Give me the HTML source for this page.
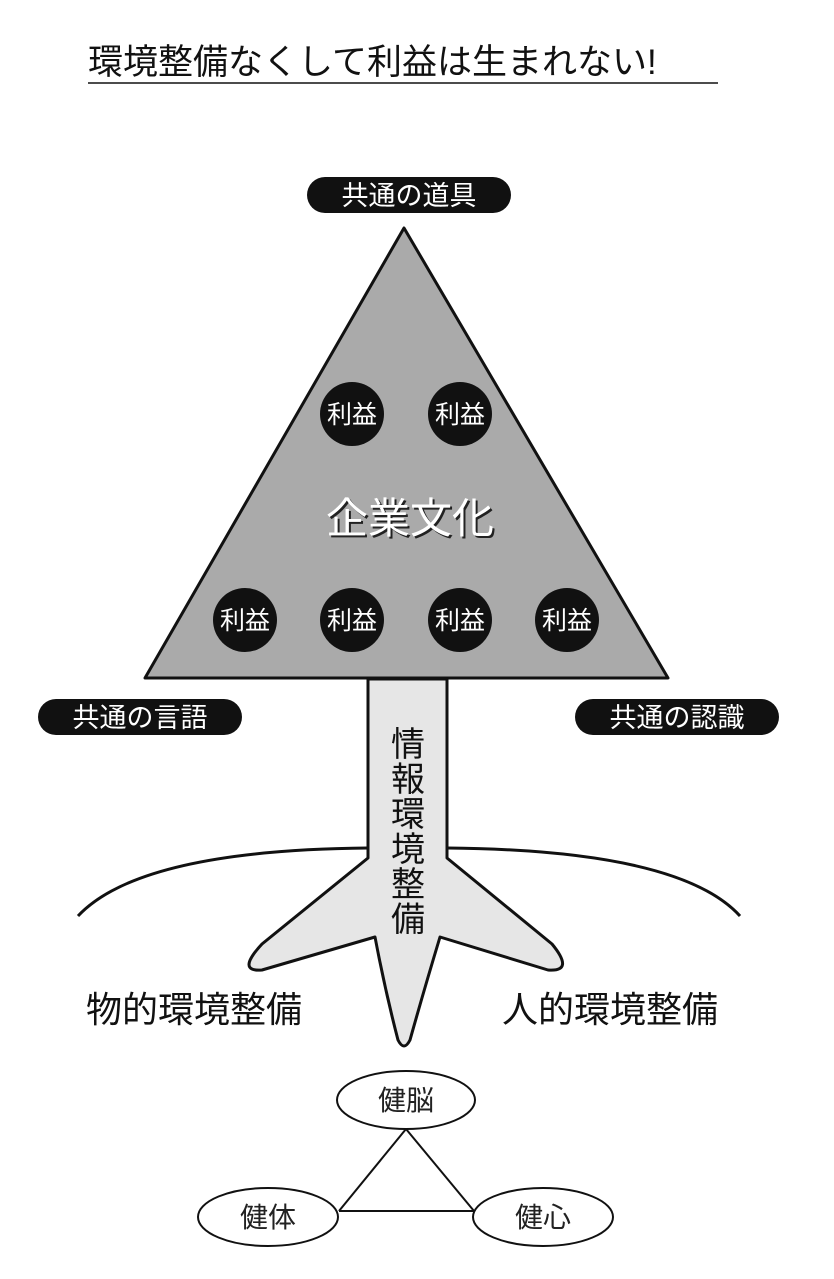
<!DOCTYPE html>
<html><head><meta charset="utf-8"><style>
body{margin:0;background:#fff;}
svg text{font-family:"Liberation Sans","Noto Sans CJK JP",sans-serif;}
</style></head><body>
<svg width="834" height="1274" viewBox="0 0 834 1274" xmlns="http://www.w3.org/2000/svg">
<rect width="834" height="1274" fill="#fff"/>
<text x="88" y="74" font-size="35" fill="#111">環境整備なくして利益は生まれない!</text>
<line x1="88" y1="83" x2="718" y2="83" stroke="#111" stroke-width="1.5"/>
<rect x="307" y="177" width="204" height="36" rx="18" fill="#111"/>
<text x="409" y="205" font-size="27" fill="#fff" text-anchor="middle">共通の道具</text>
<rect x="38" y="699" width="204" height="36" rx="18" fill="#111"/>
<text x="140" y="727" font-size="27" fill="#fff" text-anchor="middle">共通の言語</text>
<rect x="575" y="699" width="204" height="36" rx="18" fill="#111"/>
<text x="677" y="727" font-size="27" fill="#fff" text-anchor="middle">共通の認識</text>
<polygon points="404,228 668,678 145,678" fill="#aaaaaa" stroke="#111" stroke-width="3" stroke-linejoin="round"/>
<g fill="#111">
<circle cx="352" cy="414" r="32"/><circle cx="460" cy="414" r="32"/>
<circle cx="245" cy="620" r="32"/><circle cx="352" cy="620" r="32"/><circle cx="460" cy="620" r="32"/><circle cx="567" cy="620" r="32"/>
</g>
<g font-size="25" fill="#fff" text-anchor="middle">
<text x="352" y="423">利益</text><text x="460" y="423">利益</text>
<text x="245" y="629">利益</text><text x="352" y="629">利益</text><text x="460" y="629">利益</text><text x="567" y="629">利益</text>
</g>
<text x="412" y="535" font-size="42" fill="#222" text-anchor="middle">企業文化</text>
<text x="410" y="533" font-size="42" fill="#fff" text-anchor="middle">企業文化</text>
<path d="M78,916 Q140,850 368,848 M447,848 Q680,850 740,916" fill="none" stroke="#111" stroke-width="3"/>
<path d="M368,679 L368,858 L262,944 Q236,972 262,970 L375,937 Q385,990 398,1040 Q404,1052 410,1040 Q424,990 440,937 L548,970 Q575,972 552,944 L447,858 L447,679 Z" fill="#e6e6e6" stroke="#111" stroke-width="3" stroke-linejoin="round"/>
<g font-size="34" fill="#111" text-anchor="middle">
<text x="408" y="756">情</text><text x="408" y="791">報</text><text x="408" y="826">環</text><text x="408" y="861">境</text><text x="408" y="896">整</text><text x="408" y="931">備</text>
</g>
<text x="86" y="1022" font-size="36" fill="#111">物的環境整備</text>
<text x="502" y="1022" font-size="36" fill="#111">人的環境整備</text>
<g stroke="#111" stroke-width="2" fill="none">
<line x1="406" y1="1129" x2="339" y2="1211"/>
<line x1="406" y1="1129" x2="474" y2="1211"/>
<line x1="339" y1="1211" x2="474" y2="1211"/>
</g>
<g stroke="#111" stroke-width="2" fill="#fff">
<ellipse cx="406" cy="1100" rx="69" ry="29"/>
<ellipse cx="268" cy="1217" rx="70" ry="29"/>
<ellipse cx="543" cy="1217" rx="70" ry="29"/>
</g>
<g font-size="28" fill="#222" text-anchor="middle">
<text x="406" y="1110">健脳</text><text x="268" y="1227">健体</text><text x="543" y="1227">健心</text>
</g>
</svg>
</body></html>
